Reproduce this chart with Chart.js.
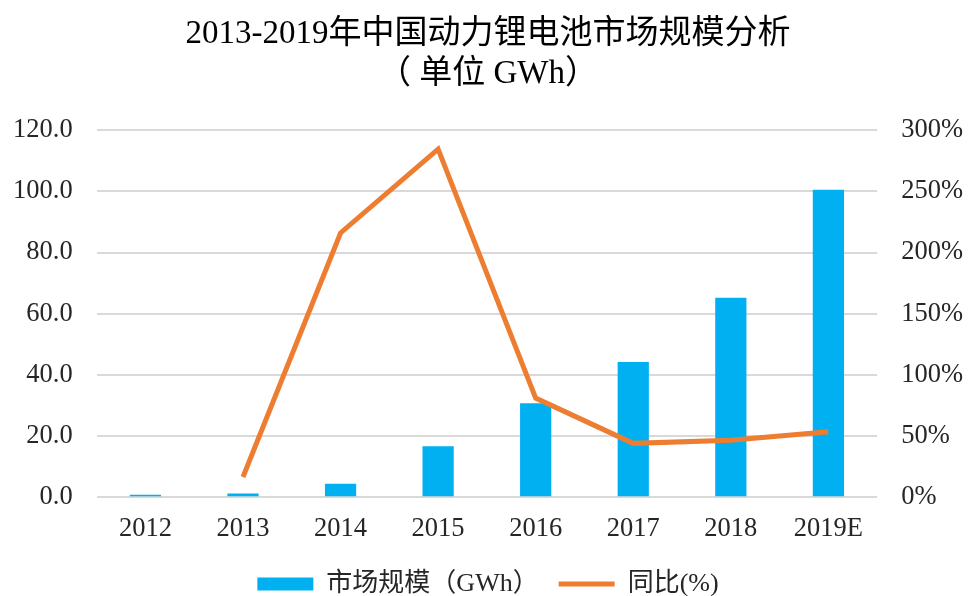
<!DOCTYPE html>
<html>
<head>
<meta charset="utf-8">
<script src="https://cdn.jsdelivr.net/npm/chart.js@4/dist/chart.umd.min.js"></script>
<style>
  html, body { margin: 0; padding: 0; background: #fff; }
  #wrap { width: 968px; height: 596px; }
</style>
</head>
<body>
<div id="wrap"><canvas id="chart"></canvas></div>
<script>
// 年份
const years = ['2012', '2013', '2014', '2015', '2016', '2017', '2018', '2019E'];
// 市场规模 (GWh)
const marketSize = [0.8, 1.2, 4.4, 16.7, 30.7, 44.2, 65.2, 100.5];
// 同比 (%)
const yoyGrowth = [null, 16.5, 216, 284.5, 81, 44, 46.5, 53.5];

const serif = '"Liberation Serif", "Times New Roman", "Noto Sans CJK SC", serif';
const textColor = '#262626';

const data = {
  labels: years,
  datasets: [
    {
      type: 'line',
      label: '同比(%)',
      data: yoyGrowth,
      yAxisID: 'y2',
      borderColor: '#ED7D31',
      backgroundColor: '#ED7D31',
      borderWidth: 5,
      pointRadius: 0,
      tension: 0,
      order: 0
    },
    {
      type: 'bar',
      label: '市场规模（GWh）',
      data: marketSize,
      yAxisID: 'y',
      backgroundColor: '#00B0F0',
      barPercentage: 0.32,
      categoryPercentage: 1,
      order: 1
    }
  ]
};

// Chart.js conta o padding dos ticks dos dois lados; tira a parte de fora
const trimWidth = px => axis => { axis.width -= px; };
const trimHeight = px => axis => { axis.height -= px; };

const config = {
  data: data,
  options: {
    responsive: true,
    maintainAspectRatio: false,
    animation: false,
    layout: { padding: { left: 13, right: 5, top: 0, bottom: -11 } },
    plugins: {
      title: {
        display: true,
        text: ['2013-2019年中国动力锂电池市场规模分析', '（ 单位 GWh）'],
        color: '#000',
        font: { family: serif, size: 33, weight: 'normal' },
        lineHeight: 1.18,
        padding: { top: 15, bottom: 36 }
      },
      legend: {
        position: 'bottom',
        reverse: true,
        labels: {
          color: textColor,
          font: { family: serif, size: 26 },
          usePointStyle: true,
          pointStyleWidth: 56,
          boxHeight: 13,
          padding: 20,
          generateLabels: function (chart) {
            const items = Chart.defaults.plugins.legend.labels.generateLabels(chart);
            items.forEach(item => {
              item.pointStyle = item.datasetIndex === 0 ? 'line' : 'rect';
              if (item.datasetIndex === 0) item.lineWidth = 5;
              else item.lineWidth = 0;
            });
            return items;
          }
        }
      },
      tooltip: { enabled: false }
    },
    scales: {
      x: {
        grid: { display: false },
        border: { display: false },
        ticks: { color: textColor, font: { family: serif, size: 26.5 }, padding: 8 },
        afterFit: trimHeight(2)
      },
      y: {
        position: 'left',
        min: 0,
        max: 120,
        ticks: {
          stepSize: 20,
          color: textColor,
          font: { family: serif, size: 26.5 },
          padding: 24,
          callback: v => v.toFixed(1)
        },
        grid: { color: '#d9d9d9', lineWidth: 2, drawTicks: false },
        border: { display: false },
        afterFit: trimWidth(24)
      },
      y2: {
        position: 'right',
        min: 0,
        max: 300,
        ticks: {
          stepSize: 50,
          color: textColor,
          font: { family: serif, size: 26.5 },
          padding: 24,
          callback: v => v + '%'
        },
        grid: { display: false, drawTicks: false },
        border: { display: false },
        afterFit: trimWidth(24)
      }
    }
  }
};

const ctx = document.getElementById('chart').getContext('2d');
new Chart(ctx, config);
</script>
</body>
</html>
